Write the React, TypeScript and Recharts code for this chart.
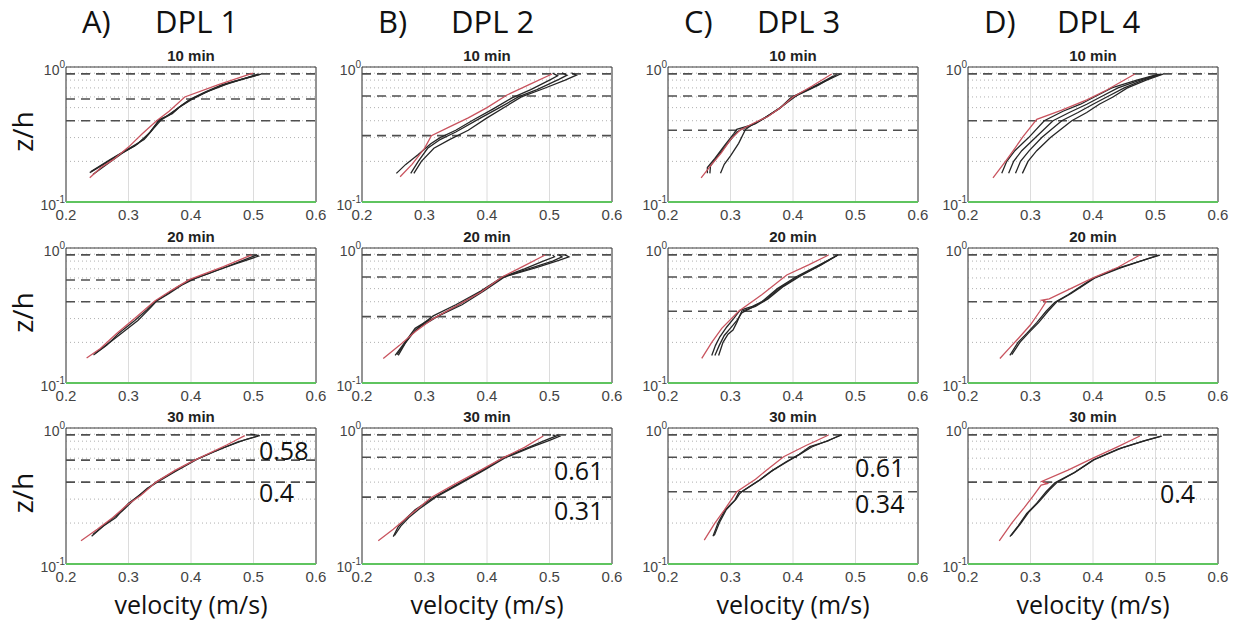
import React from 'react';
import {
  LineChart,
  Line,
  XAxis,
  YAxis,
  CartesianGrid,
  ReferenceLine,
  ReferenceArea,
} from 'recharts';

// [velocity (m/s), z/h]
type Pt = [number, number];

// ---- DPL 1 ----
const A10_RED: Pt[] = [[0.238, 0.151], [0.256, 0.18], [0.275, 0.205], [0.3, 0.255], [0.322, 0.32], [0.345, 0.4], [0.365, 0.47], [0.39, 0.6], [0.444, 0.74], [0.499, 0.9]];
const A10_K1: Pt[] = [[0.238, 0.165], [0.26, 0.19], [0.285, 0.225], [0.31, 0.26], [0.33, 0.31], [0.345, 0.38], [0.35, 0.41], [0.37, 0.45], [0.385, 0.52], [0.4, 0.58], [0.425, 0.66], [0.45, 0.74], [0.48, 0.81], [0.512, 0.885]];
const A10_K2: Pt[] = [[0.243, 0.16], [0.265, 0.19], [0.29, 0.23], [0.315, 0.27], [0.335, 0.33], [0.348, 0.4], [0.36, 0.43], [0.375, 0.48], [0.395, 0.56], [0.42, 0.64], [0.455, 0.74], [0.485, 0.82], [0.508, 0.89]];
const A10_K3: Pt[] = [[0.24, 0.168], [0.27, 0.205], [0.295, 0.24], [0.325, 0.29], [0.34, 0.35], [0.352, 0.405], [0.365, 0.44], [0.38, 0.5], [0.4, 0.57], [0.43, 0.67], [0.46, 0.76], [0.51, 0.88]];

const A20_RED: Pt[] = [[0.233, 0.153], [0.255, 0.18], [0.281, 0.233], [0.313, 0.31], [0.342, 0.405], [0.37, 0.49], [0.398, 0.586], [0.452, 0.727], [0.497, 0.89]];
const A20_K1: Pt[] = [[0.244, 0.161], [0.265, 0.19], [0.285, 0.235], [0.31, 0.29], [0.33, 0.35], [0.342, 0.4], [0.36, 0.45], [0.38, 0.52], [0.401, 0.586], [0.43, 0.65], [0.455, 0.72], [0.48, 0.8], [0.505, 0.887]];
const A20_K2: Pt[] = [[0.246, 0.165], [0.27, 0.2], [0.292, 0.24], [0.315, 0.29], [0.335, 0.36], [0.345, 0.405], [0.365, 0.46], [0.385, 0.53], [0.405, 0.59], [0.44, 0.68], [0.47, 0.76], [0.508, 0.87], [0.503, 0.9]];

const A30_RED: Pt[] = [[0.224, 0.148], [0.25, 0.18], [0.275, 0.22], [0.297, 0.27], [0.32, 0.32], [0.344, 0.4], [0.375, 0.49], [0.406, 0.58], [0.457, 0.75], [0.486, 0.88]];
const A30_K1: Pt[] = [[0.241, 0.16], [0.26, 0.19], [0.28, 0.22], [0.3, 0.28], [0.325, 0.34], [0.344, 0.4], [0.37, 0.47], [0.406, 0.58], [0.44, 0.68], [0.475, 0.79], [0.507, 0.873]];
const A30_K2: Pt[] = [[0.243, 0.165], [0.265, 0.2], [0.29, 0.245], [0.31, 0.3], [0.33, 0.36], [0.348, 0.405], [0.375, 0.48], [0.41, 0.59], [0.45, 0.71], [0.49, 0.83], [0.51, 0.88], [0.495, 0.9]];

// ---- DPL 2 ----
const B10_RED: Pt[] = [[0.261, 0.154], [0.28, 0.19], [0.3, 0.25], [0.311, 0.31], [0.34, 0.36], [0.37, 0.42], [0.4, 0.5], [0.432, 0.62], [0.47, 0.75], [0.504, 0.887]];
const B10_K1: Pt[] = [[0.255, 0.163], [0.27, 0.19], [0.29, 0.225], [0.31, 0.27], [0.325, 0.3], [0.35, 0.34], [0.38, 0.41], [0.41, 0.49], [0.44, 0.59], [0.47, 0.68], [0.5, 0.8], [0.513, 0.86], [0.505, 0.9]];
const B10_K2: Pt[] = [[0.278, 0.163], [0.29, 0.2], [0.305, 0.25], [0.325, 0.29], [0.35, 0.33], [0.39, 0.42], [0.42, 0.5], [0.45, 0.6], [0.48, 0.68], [0.515, 0.81], [0.528, 0.87], [0.52, 0.905]];
const B10_K3: Pt[] = [[0.283, 0.163], [0.295, 0.2], [0.315, 0.25], [0.34, 0.29], [0.37, 0.34], [0.4, 0.42], [0.43, 0.51], [0.455, 0.6], [0.49, 0.69], [0.525, 0.8], [0.543, 0.87], [0.535, 0.905]];

const B20_RED: Pt[] = [[0.234, 0.152], [0.26, 0.19], [0.285, 0.24], [0.314, 0.3], [0.35, 0.37], [0.39, 0.47], [0.424, 0.61], [0.46, 0.74], [0.493, 0.887]];
const B20_K1: Pt[] = [[0.253, 0.16], [0.265, 0.19], [0.275, 0.22], [0.285, 0.254], [0.3, 0.28], [0.314, 0.314], [0.35, 0.38], [0.39, 0.48], [0.426, 0.613], [0.46, 0.7], [0.49, 0.8], [0.508, 0.86], [0.505, 0.89]];
const B20_K2: Pt[] = [[0.256, 0.162], [0.268, 0.195], [0.28, 0.23], [0.292, 0.26], [0.31, 0.29], [0.325, 0.32], [0.355, 0.38], [0.392, 0.48], [0.426, 0.61], [0.47, 0.71], [0.505, 0.8], [0.52, 0.86], [0.515, 0.89]];
const B20_K3: Pt[] = [[0.258, 0.16], [0.27, 0.2], [0.285, 0.245], [0.3, 0.28], [0.32, 0.31], [0.36, 0.38], [0.395, 0.48], [0.428, 0.61], [0.48, 0.72], [0.515, 0.81], [0.531, 0.86], [0.525, 0.89]];

const B30_RED: Pt[] = [[0.226, 0.148], [0.25, 0.18], [0.275, 0.225], [0.31, 0.307], [0.35, 0.39], [0.39, 0.49], [0.426, 0.605], [0.46, 0.72], [0.49, 0.873]];
const B30_K1: Pt[] = [[0.25, 0.159], [0.258, 0.188], [0.27, 0.215], [0.285, 0.25], [0.314, 0.307], [0.35, 0.38], [0.39, 0.48], [0.426, 0.605], [0.46, 0.7], [0.49, 0.8], [0.51, 0.87], [0.505, 0.89]];
const B30_K2: Pt[] = [[0.252, 0.162], [0.262, 0.19], [0.275, 0.22], [0.292, 0.255], [0.318, 0.31], [0.355, 0.385], [0.392, 0.48], [0.428, 0.6], [0.47, 0.72], [0.5, 0.81], [0.516, 0.87], [0.51, 0.89]];

// ---- DPL 3 ----
const C10_RED: Pt[] = [[0.253, 0.151], [0.27, 0.19], [0.285, 0.23], [0.3, 0.29], [0.315, 0.34], [0.335, 0.38], [0.36, 0.43], [0.38, 0.5], [0.4, 0.6], [0.43, 0.72], [0.462, 0.887]];
const C10_K1: Pt[] = [[0.263, 0.163], [0.263, 0.18], [0.275, 0.21], [0.29, 0.26], [0.305, 0.32], [0.31, 0.345], [0.334, 0.372], [0.358, 0.429], [0.38, 0.5], [0.4, 0.603], [0.44, 0.74], [0.476, 0.887]];
const C10_K2: Pt[] = [[0.267, 0.163], [0.268, 0.185], [0.28, 0.22], [0.295, 0.27], [0.31, 0.33], [0.32, 0.35], [0.34, 0.38], [0.362, 0.44], [0.385, 0.52], [0.405, 0.61], [0.44, 0.73], [0.47, 0.88]];
const C10_K3: Pt[] = [[0.284, 0.163], [0.29, 0.19], [0.3, 0.22], [0.313, 0.272], [0.324, 0.345], [0.334, 0.372], [0.355, 0.42], [0.378, 0.49], [0.396, 0.59], [0.43, 0.7], [0.465, 0.86]];

const C20_RED: Pt[] = [[0.254, 0.152], [0.27, 0.2], [0.286, 0.254], [0.313, 0.34], [0.35, 0.45], [0.39, 0.631], [0.425, 0.75], [0.457, 0.887]];
const C20_K1: Pt[] = [[0.27, 0.16], [0.276, 0.19], [0.283, 0.22], [0.294, 0.26], [0.305, 0.3], [0.315, 0.345], [0.335, 0.37], [0.35, 0.4], [0.375, 0.5], [0.405, 0.613], [0.44, 0.74], [0.472, 0.887]];
const C20_K2: Pt[] = [[0.275, 0.16], [0.282, 0.19], [0.29, 0.225], [0.3, 0.255], [0.31, 0.29], [0.318, 0.33], [0.338, 0.37], [0.355, 0.41], [0.38, 0.51], [0.41, 0.62], [0.442, 0.74], [0.47, 0.88]];
const C20_K3: Pt[] = [[0.281, 0.16], [0.288, 0.2], [0.296, 0.23], [0.304, 0.247], [0.31, 0.28], [0.318, 0.34], [0.34, 0.37], [0.36, 0.42], [0.385, 0.52], [0.412, 0.62], [0.445, 0.75], [0.472, 0.887]];

const C30_RED: Pt[] = [[0.258, 0.15], [0.275, 0.2], [0.29, 0.249], [0.31, 0.34], [0.34, 0.42], [0.36, 0.5], [0.385, 0.615], [0.42, 0.74], [0.457, 0.888]];
const C30_K1: Pt[] = [[0.272, 0.16], [0.28, 0.2], [0.291, 0.249], [0.307, 0.295], [0.314, 0.34], [0.318, 0.34], [0.345, 0.41], [0.365, 0.48], [0.389, 0.565], [0.41, 0.64], [0.427, 0.729], [0.455, 0.8], [0.476, 0.888]];
const C30_K2: Pt[] = [[0.274, 0.162], [0.283, 0.205], [0.293, 0.25], [0.309, 0.3], [0.315, 0.33], [0.32, 0.345], [0.347, 0.415], [0.368, 0.49], [0.392, 0.57], [0.412, 0.645], [0.43, 0.725], [0.478, 0.888]];

// ---- DPL 4 ----
const D10_RED: Pt[] = [[0.24, 0.151], [0.26, 0.2], [0.275, 0.25], [0.288, 0.305], [0.31, 0.41], [0.35, 0.48], [0.39, 0.57], [0.422, 0.675], [0.467, 0.887]];
const D10_K1: Pt[] = [[0.254, 0.163], [0.262, 0.2], [0.275, 0.24], [0.297, 0.3], [0.322, 0.4], [0.352, 0.47], [0.38, 0.53], [0.402, 0.6], [0.43, 0.7], [0.47, 0.8], [0.505, 0.887]];
const D10_K2: Pt[] = [[0.265, 0.163], [0.273, 0.2], [0.286, 0.24], [0.308, 0.3], [0.336, 0.4], [0.362, 0.46], [0.39, 0.53], [0.412, 0.6], [0.44, 0.7], [0.475, 0.8], [0.508, 0.887]];
const D10_K3: Pt[] = [[0.276, 0.163], [0.284, 0.2], [0.298, 0.24], [0.318, 0.3], [0.35, 0.4], [0.376, 0.46], [0.4, 0.53], [0.422, 0.6], [0.45, 0.7], [0.48, 0.8], [0.51, 0.887]];
const D10_K4: Pt[] = [[0.287, 0.163], [0.296, 0.2], [0.31, 0.24], [0.332, 0.3], [0.366, 0.4], [0.39, 0.46], [0.41, 0.53], [0.432, 0.6], [0.455, 0.7], [0.485, 0.8], [0.512, 0.887]];

const D20_RED: Pt[] = [[0.251, 0.152], [0.268, 0.185], [0.283, 0.22], [0.3, 0.27], [0.315, 0.34], [0.325, 0.4], [0.318, 0.41], [0.33, 0.42], [0.36, 0.49], [0.4, 0.6], [0.44, 0.72], [0.475, 0.887]];
const D20_K1: Pt[] = [[0.267, 0.16], [0.28, 0.2], [0.294, 0.233], [0.31, 0.28], [0.325, 0.34], [0.339, 0.396], [0.36, 0.45], [0.4, 0.596], [0.44, 0.71], [0.48, 0.81], [0.505, 0.887]];
const D20_K2: Pt[] = [[0.27, 0.162], [0.283, 0.2], [0.297, 0.235], [0.313, 0.28], [0.328, 0.34], [0.342, 0.4], [0.365, 0.46], [0.403, 0.6], [0.443, 0.71], [0.483, 0.82], [0.507, 0.887]];

const D30_RED: Pt[] = [[0.25, 0.148], [0.27, 0.2], [0.29, 0.26], [0.305, 0.32], [0.317, 0.38], [0.327, 0.39], [0.318, 0.405], [0.36, 0.49], [0.4, 0.6], [0.44, 0.73], [0.475, 0.873]];
const D30_K1: Pt[] = [[0.267, 0.159], [0.28, 0.19], [0.294, 0.235], [0.31, 0.28], [0.325, 0.34], [0.339, 0.396], [0.37, 0.47], [0.4, 0.582], [0.44, 0.7], [0.48, 0.8], [0.509, 0.873]];
const D30_K2: Pt[] = [[0.269, 0.162], [0.283, 0.195], [0.297, 0.24], [0.313, 0.285], [0.33, 0.35], [0.343, 0.4], [0.372, 0.475], [0.402, 0.585], [0.445, 0.71], [0.485, 0.81], [0.51, 0.873]];

// dashed reference heights (z/h) for each DPL column
const A_LEVELS = [0.89, 0.58, 0.4];
const B_LEVELS = [0.89, 0.61, 0.31];
const C_LEVELS = [0.89, 0.61, 0.34];
const D_LEVELS = [0.89, 0.4];

// labels
const COLUMN_LETTERS = ['A)', 'B)', 'C)', 'D)'];
const DPL_NAMES = ['DPL 1', 'DPL 2', 'DPL 3', 'DPL 4'];
const TIMES = ['10 min', '20 min', '30 min'];
const A_NOTES = ['0.58', '0.4'];
const B_NOTES = ['0.61', '0.31'];
const C_NOTES = ['0.61', '0.34'];
const D_NOTES = ['0.4'];

const X_TICKS = [0.2, 0.3, 0.4, 0.5, 0.6];
const Y_TICKS = [0.1, 0.2, 0.3, 0.4, 0.5, 0.6, 0.7, 0.8, 0.9, 1];

const RED = '#c9545f';
const BLACK = '#262626';
const DASH = '#4f4f4f';

// layout (pixels)
const COL_LEFT = [66, 362, 668, 968];
const COL_WIDTH = 250;
const ROW_TOP = [67, 248, 428];
const ROW_HEIGHT = [135, 135, 136];
const Y_AXIS_W = 50;
const TOP_PAD = 12;
const X_AXIS_H = 30;
const RIGHT_PAD = 12;

const NOTE_POS = [
  [[259, 460], [259, 502]],
  [[554, 480], [554, 520]],
  [[855, 477], [855, 513]],
  [[1160, 503]],
];

const PANELS = [
  [
    { red: A10_RED, black: [A10_K1, A10_K2, A10_K3] },
    { red: A20_RED, black: [A20_K1, A20_K2] },
    { red: A30_RED, black: [A30_K1, A30_K2] },
  ],
  [
    { red: B10_RED, black: [B10_K1, B10_K2, B10_K3] },
    { red: B20_RED, black: [B20_K1, B20_K2, B20_K3] },
    { red: B30_RED, black: [B30_K1, B30_K2] },
  ],
  [
    { red: C10_RED, black: [C10_K1, C10_K2, C10_K3] },
    { red: C20_RED, black: [C20_K1, C20_K2, C20_K3] },
    { red: C30_RED, black: [C30_K1, C30_K2] },
  ],
  [
    { red: D10_RED, black: [D10_K1, D10_K2, D10_K3, D10_K4] },
    { red: D20_RED, black: [D20_K1, D20_K2] },
    { red: D30_RED, black: [D30_K1, D30_K2] },
  ],
];
const LEVELS = [A_LEVELS, B_LEVELS, C_LEVELS, D_LEVELS];
const NOTES = [A_NOTES, B_NOTES, C_NOTES, D_NOTES];

const toRows = (pts: Pt[]) => pts.map(([v, z]) => ({ v, z }));

const YTick = (props: any) => {
  const { x, y, payload } = props;
  const val = payload.value;
  if (Math.abs(val - 1) > 1e-6 && Math.abs(val - 0.1) > 1e-6) return null;
  const exp = Math.abs(val - 1) < 1e-6 ? '0' : '-1';
  return (
    <text
      x={x}
      y={y + 8}
      textAnchor="end"
      fill="#444"
      fontFamily="'Liberation Sans', Arial, sans-serif"
      fontSize={14}
    >
      <tspan>10</tspan>
      <tspan dy={-7} fontSize={10}>{exp}</tspan>
    </text>
  );
};

interface PanelProps {
  col: number;
  row: number;
}

const Panel: React.FC<PanelProps> = ({ col, row }) => {
  const panel = PANELS[col][row];
  const h = ROW_HEIGHT[row];
  return (
    <div
      style={{
        position: 'absolute',
        left: COL_LEFT[col] - Y_AXIS_W,
        top: ROW_TOP[row] - TOP_PAD,
      }}
    >
      <LineChart
        width={Y_AXIS_W + COL_WIDTH + RIGHT_PAD}
        height={TOP_PAD + h + X_AXIS_H}
        margin={{ top: TOP_PAD, right: RIGHT_PAD, left: 0, bottom: 0 }}
      >
        <CartesianGrid vertical={false} stroke="#b0b0b0" strokeDasharray="1 3" />
        <CartesianGrid horizontal={false} stroke="#dcdcdc" />
        <XAxis
          dataKey="v"
          type="number"
          domain={[0.2, 0.6]}
          ticks={X_TICKS}
          interval={0}
          allowDataOverflow
          height={X_AXIS_H}
          axisLine={false}
          tickLine={false}
          tickSize={5}
          tickMargin={2}
          tick={{ fill: '#444', fontSize: 15, fontFamily: "'Liberation Sans', Arial, sans-serif" }}
        />
        <YAxis
          type="number"
          scale="log"
          domain={[0.1, 1]}
          ticks={Y_TICKS}
          interval={0}
          allowDataOverflow
          width={Y_AXIS_W}
          axisLine={false}
          tickLine={false}
          tickSize={1}
          tickMargin={0}
          tick={<YTick />}
        />
        {LEVELS[col].map((lv) => (
          <ReferenceLine key={lv} y={lv} stroke={DASH} strokeWidth={1.6} strokeDasharray="9 6" />
        ))}
        <ReferenceArea x1={0.2} x2={0.6} y1={0.1} y2={1} fill="none" stroke="#3a3a3a" strokeWidth={1} ifOverflow="visible" />
        <ReferenceLine y={0.1} stroke="#5fc45f" strokeWidth={2} />
        {panel.black.map((pts, i) => (
          <Line
            key={`k${i}`}
            data={toRows(pts)}
            dataKey="z"
            type="linear"
            stroke={BLACK}
            strokeWidth={1.3}
            dot={false}
            isAnimationActive={false}
          />
        ))}
        <Line
          data={toRows(panel.red)}
          dataKey="z"
          type="linear"
          stroke={RED}
          strokeWidth={1.3}
          dot={false}
          isAnimationActive={false}
        />
      </LineChart>
    </div>
  );
};

export default function App() {
  const heading = "'Open Sans', 'Noto Sans', sans-serif";
  return (
    <div
      style={{
        position: 'absolute',
        left: 0,
        top: 0,
        width: 1237,
        height: 623,
        background: '#fff',
        overflow: 'hidden',
      }}
    >
      {COL_LEFT.map((_, c) =>
        ROW_TOP.map((_, r) => <Panel key={`${c}-${r}`} col={c} row={r} />)
      )}
      <svg
        width={1237}
        height={623}
        style={{ position: 'absolute', left: 0, top: 0, pointerEvents: 'none' }}
      >
        {COL_LEFT.map((left, c) => (
          <g key={`h${c}`}>
            <text x={left + 16} y={33} fontFamily={heading} fontSize={31} fill="#111">
              {COLUMN_LETTERS[c]}
            </text>
            <text x={left + 89} y={33} fontFamily={heading} fontSize={31} fill="#111">
              {DPL_NAMES[c]}
            </text>
            <text
              x={left + COL_WIDTH / 2}
              y={614}
              textAnchor="middle"
              fontFamily={heading}
              fontSize={25}
              fill="#111"
            >
              velocity (m/s)
            </text>
            {ROW_TOP.map((top, r) => (
              <text
                key={`t${r}`}
                x={left + COL_WIDTH / 2}
                y={top - 6}
                textAnchor="middle"
                fontFamily="'Liberation Sans', Arial, sans-serif"
                fontWeight="bold"
                fontSize={15}
                fill="#222"
              >
                {TIMES[r]}
              </text>
            ))}
            {NOTES[c].map((n, i) => (
              <text
                key={`n${i}`}
                x={NOTE_POS[c][i][0]}
                y={NOTE_POS[c][i][1]}
                fontFamily={heading}
                fontSize={25}
                fill="#111"
              >
                {n}
              </text>
            ))}
          </g>
        ))}
        {ROW_TOP.map((top, r) => (
          <text
            key={`z${r}`}
            x={33}
            y={top + ROW_HEIGHT[r] / 2 - 3}
            transform={`rotate(-90 33 ${top + ROW_HEIGHT[r] / 2 - 3})`}
            textAnchor="middle"
            fontFamily={heading}
            fontSize={28}
            fill="#111"
          >
            z/h
          </text>
        ))}
      </svg>
    </div>
  );
}
